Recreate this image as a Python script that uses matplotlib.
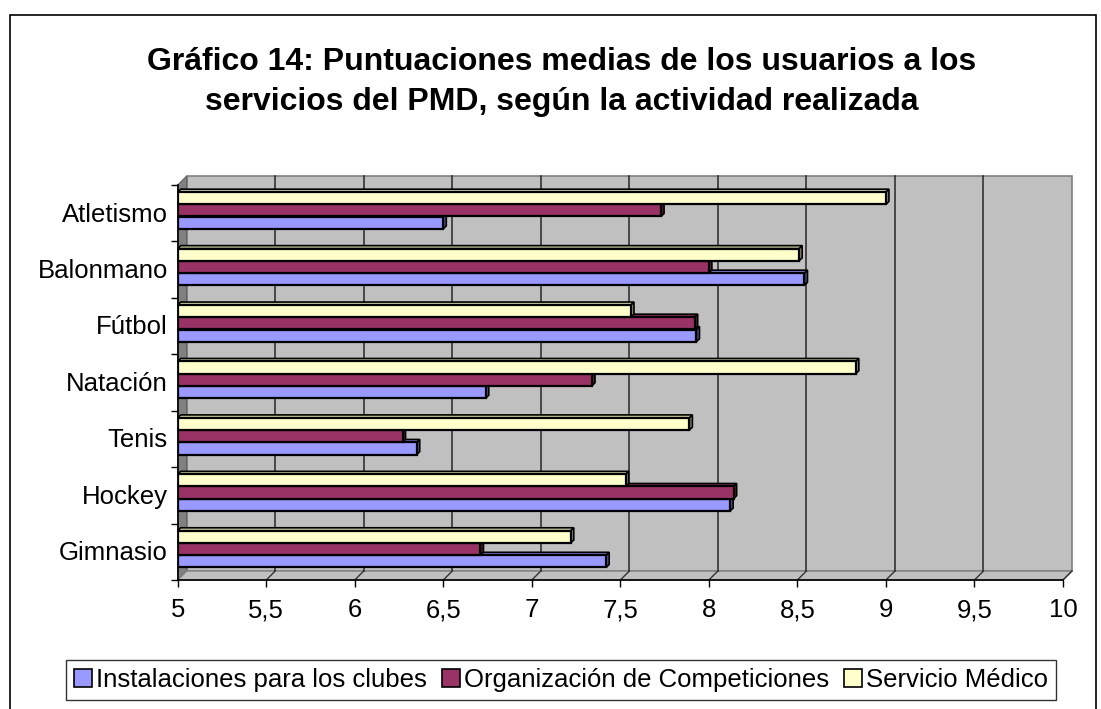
import matplotlib
matplotlib.use("Agg")
import matplotlib.pyplot as plt
from matplotlib.patches import Polygon, Rectangle
from matplotlib.lines import Line2D
import matplotlib.colors as mcolors

# Puntuaciones medias por actividad
categorias = ["Atletismo", "Balonmano", "Fútbol", "Natación", "Tenis", "Hockey", "Gimnasio"]
instalaciones = [6.50, 8.54, 7.93, 6.74, 6.35, 8.12, 7.42]
organizacion = [7.73, 8.00, 7.92, 7.34, 6.27, 8.14, 6.71]
servicio_medico = [9.00, 8.51, 7.56, 8.83, 7.89, 7.53, 7.22]
series_nombres = ["Instalaciones para los clubes", "Organización de Competiciones", "Servicio Médico"]
series_colores = ["#9999FF", "#993366", "#FFFFCC"]
x_ticks = [5, 5.5, 6, 6.5, 7, 7.5, 8, 8.5, 9, 9.5, 10]
titulo = "Gráfico 14: Puntuaciones medias de los usuarios a los\nservicios del PMD, según la actividad realizada"

plt.rcParams['font.family'] = ['Liberation Sans', 'DejaVu Sans']

W, H = 1101, 709
def fx(px):
    return px / W
def fy(py):
    return 1 - py / H

fig = plt.figure(figsize=(W / 100, H / 100), dpi=100)
ax = fig.add_axes([fx(177.7), fy(580), fx(1063) - fx(177.7), fy(185) - fy(580)])
ax.set_xlim(5, 10)
ax.set_ylim(len(categorias), 0)
ax.set_facecolor('none')

# pseudo-3D: desplazamiento de la pared del fondo
DX = 9 / 177.0
DY = 9 / 56.4
n = len(categorias)

back = Polygon([(5 + DX, -DY), (10 + DX, -DY), (10 + DX, n - DY), (5 + DX, n - DY)],
               closed=True, fc='#C0C0C0', ec='#808080', lw=1.2, clip_on=False, zorder=0)
left = Polygon([(5, 0), (5 + DX, -DY), (5 + DX, n - DY), (5, n)],
               closed=True, fc='#808080', ec='#606060', lw=0.8, clip_on=False, zorder=0.5)
floor = Polygon([(5, n), (10, n), (10 + DX, n - DY), (5 + DX, n - DY)],
                closed=True, fc='#C0C0C0', ec='#808080', lw=1, clip_on=False, zorder=0.5)
for p in (back, left, floor):
    ax.add_patch(p)

for xt in x_ticks[1:]:
    if xt < 10:
        ax.add_line(Line2D([xt + DX, xt + DX], [-DY, n - DY], color='#333333', lw=1.2,
                           clip_on=False, zorder=0.6))
    ax.add_line(Line2D([xt + DX, xt], [n - DY, n], color='#333333', lw=1.0,
                       clip_on=False, zorder=0.6))

# barras
h = 0.215
offsets = [0.67, 0.45, 0.235]
valores = [instalaciones, organizacion, servicio_medico]
ddx = 3 / 177.0
ddy = 3 / 56.4
for k, (vals, col, off) in enumerate(zip(valores, series_colores, offsets)):
    ys = [i + off for i in range(n)]
    z = 2 + k
    bars = ax.barh(ys, [v - 5 for v in vals], left=5, height=h, color=col,
                   edgecolor='black', lw=1.6, zorder=z + 0.5, label=series_nombres[k])
    rgb = mcolors.to_rgb(col)
    top_c = tuple(c * 0.8 for c in rgb)
    side_c = tuple(c * 0.55 for c in rgb)
    for b in bars:
        x0 = b.get_x()
        x1 = x0 + b.get_width()
        yt = b.get_y()
        yb = yt + b.get_height()
        top = Polygon([(x0, yt), (x1, yt), (x1 + ddx, yt - ddy), (x0 + ddx, yt - ddy)],
                      closed=True, fc=top_c, ec='black', lw=1.2, zorder=z, clip_on=False)
        side = Polygon([(x1, yt), (x1 + ddx, yt - ddy), (x1 + ddx, yb - ddy), (x1, yb)],
                       closed=True, fc=side_c, ec='black', lw=1.2, zorder=z, clip_on=False)
        ax.add_patch(top)
        ax.add_patch(side)

for s in ['top', 'right']:
    ax.spines[s].set_visible(False)
for s in ['left', 'bottom']:
    ax.spines[s].set_color('black')
    ax.spines[s].set_linewidth(1.2)
    ax.spines[s].set_zorder(10)

ax.set_xticks(x_ticks)
ax.set_xticklabels([str(v).replace('.', ',') if v % 1 else str(int(v)) for v in x_ticks],
                   fontsize=18.5)
ax.tick_params(axis='x', length=5, width=1, pad=8)
ax.set_yticks(range(n + 1))
ax.set_yticklabels([])
ax.set_yticks([i + 0.48 for i in range(n)], minor=True)
ax.set_yticklabels(categorias, minor=True, fontsize=18.5)
ax.tick_params(axis='y', which='major', length=5, width=1)
ax.tick_params(axis='y', which='minor', length=0, pad=7)

fig.text(fx(562), fy(82), titulo, ha='center', va='center', fontsize=23,
         fontweight='bold', linespacing=1.45)

handles = [Rectangle((0, 0), 1, 1, fc=c, ec='black', lw=1.2) for c in series_colores]
leg = fig.legend(handles, series_nombres, loc='center', bbox_to_anchor=(fx(561), fy(680)),
                 ncol=3, frameon=True, fancybox=False, edgecolor='black', fontsize=18.5,
                 handlelength=0.7, handleheight=0.7, handletextpad=0.15,
                 columnspacing=0.6, borderpad=0.3, borderaxespad=0)
leg.get_frame().set_linewidth(1)

fig.patches.append(Rectangle((fx(10), fy(720)), fx(1096) - fx(10), fy(15) - fy(720),
                             transform=fig.transFigure, fill=False, ec='black', lw=1.2))

fig.savefig("out.png", dpi=100, facecolor='white')
